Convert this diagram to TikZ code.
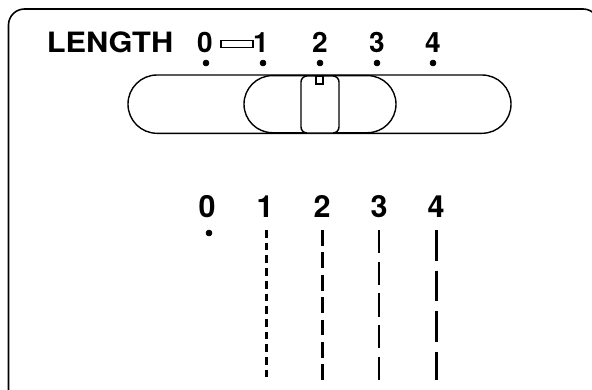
\documentclass[tikz,border=0pt]{standalone}
\usepackage{fontspec}
\setmainfont{TeX Gyre Heros}
\begin{document}
\begin{tikzpicture}[x=1pt,y=-1pt,
  outline/.style={line width=1.4pt},
  lbl/.style={inner sep=0pt,anchor=base,font=\bfseries\fontsize{28}{28}\selectfont},
  lblb/.style={inner sep=0pt,anchor=base,font=\bfseries\fontsize{30.5}{30.5}\selectfont},
  dot/.style={circle,fill=black,draw=black,line width=0.5pt,inner sep=0pt,minimum size=6pt},
  stitch/.style={line width=2.5pt}]
\useasboundingbox (0,0) rectangle (592,389);
\fill[white] (0,0) rectangle (592,389);
\begin{scope}
\clip (0,0) rectangle (592,389);
\draw[line width=1.6pt,rounded corners=16pt] (8.5,9) rectangle (599,410);
\end{scope}
% top labels
\node[lbl] (len) at (110,52) {\scalebox{1.1}[1]{LENGTH}};
\node[lbl] (t0) at (205,52) {0};
\node[lbl] (t1) at (261,52) {1};
\node[lbl] (t2) at (320,52) {2};
\node[lbl] (t3) at (377,52) {3};
\node[lbl] (t4) at (433,52) {4};
\draw[line width=1.8pt] (221,40.5) rectangle (253,47.5);
\node[dot] (d0) at (206,63) {};
\node[dot] (d1) at (263,63) {};
\node[dot] (d2) at (320,63) {};
\node[dot] (d3) at (377,63) {};
\node[dot] (d4) at (433,63) {};
% slot
\draw[outline,rounded corners=29pt] (128,75) rectangle (511,133.3);
\draw[outline,rounded corners=28.5pt] (244,75.6) rectangle (396,132.7);
\draw[outline,fill=white,rounded corners=6pt] (301,76) rectangle (339,133);
\draw[line width=1.1pt] (316,76) rectangle (323,84);
% bottom
\node[lblb] (b0) at (207,217) {0};
\node[lblb] (b1) at (265,217) {1};
\node[lblb] (b2) at (322,217) {2};
\node[lblb] (b3) at (379,217) {3};
\node[lblb] (b4) at (436,217) {4};
\node[dot] (bd0) at (209,233) {};
\coordinate (s1a) at (266.5,230); \coordinate (s1b) at (266.5,378);
\coordinate (s2a) at (322.3,230); \coordinate (s2b) at (322.3,380);
\coordinate (s3a) at (379,230); \coordinate (s3b) at (379,381);
\coordinate (s4a) at (436.3,230); \coordinate (s4b) at (436.3,380);
\draw[stitch,dash pattern=on 7.7pt off 5pt] (s1a) -- (s1b);
\draw[stitch,dash pattern=on 15.7pt off 6.7pt] (s2a) -- (s2b);
\draw[stitch,dash pattern=on 23.3pt off 8.4pt] (s3a) -- (s3b);
\draw[stitch,dash pattern=on 30.5pt off 10pt] (s4a) -- (s4b);
\end{tikzpicture}
\end{document}
